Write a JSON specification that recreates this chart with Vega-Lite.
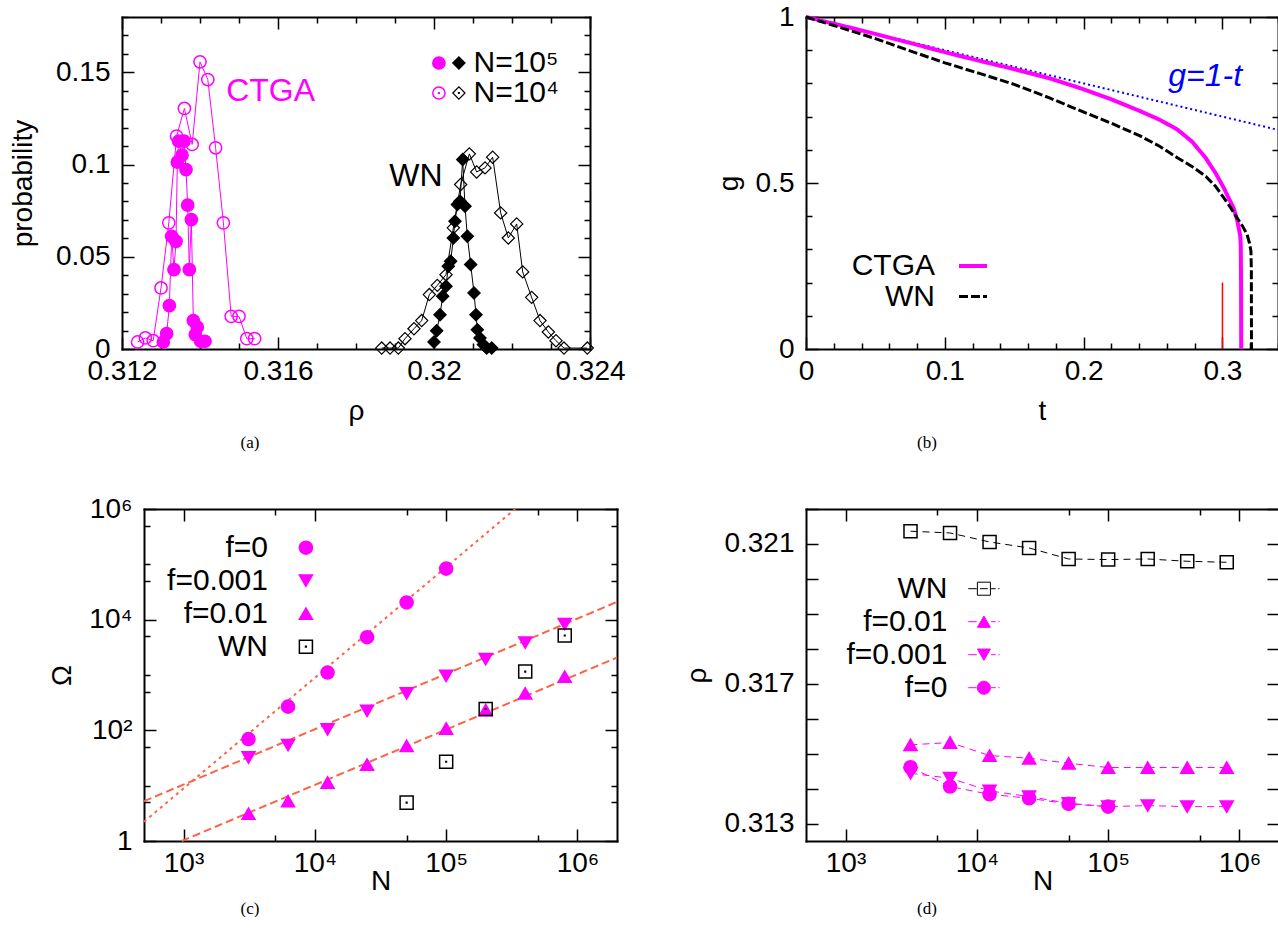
{
"$schema": "https://vega.github.io/schema/vega-lite/v6.json",
"padding": {"left": 9, "top": 3, "right": 0, "bottom": 0},
"autosize": {"type": "pad"},
"columns": 2,
"bounds": "flush",
"spacing": {"row": 160, "column": 189},
"resolve": {"scale": {"color": "independent", "fill": "independent", "stroke": "independent", "shape": "independent", "strokeDash": "independent", "strokeWidth": "independent"}, "legend": {"color": "independent", "fill": "independent", "stroke": "independent", "shape": "independent", "strokeDash": "independent", "strokeWidth": "independent"}},
"config": {
  "view": {"stroke": null},
  "font": "Liberation Sans",
  "axis": {"grid": false, "domainColor": "black", "domainWidth": 2, "domainCap": "square", "tickColor": "black", "tickWidth": 1.5, "labelColor": "black", "labelFont": "Liberation Sans", "labelFontSize": 28, "titleFont": "Liberation Sans", "titleFontSize": 28, "titleFontWeight": "normal", "titleColor": "black", "labelFlush": false, "labelOverlap": false, "labelBound": false},
  "legend": {"labelFont": "Liberation Sans", "labelFontSize": 30, "labelColor": "black", "padding": 0},
  "point": {"opacity": 1},
  "text": {"font": "Liberation Sans"}
},
"concat": [
{
  "width": 468, "height": 332,
  "title": {"text": "(a)", "orient": "bottom", "anchor": "middle", "frame": "group", "dx": -106, "offset": 10, "font": "Liberation Serif", "fontSize": 17, "fontWeight": "normal", "color": "black"},
  "data": {"values": [
    {"m":"CTGA","N":"N=10⁴","rho":0.3124,"p":0.0038},{"m":"CTGA","N":"N=10⁴","rho":0.3126,"p":0.006},{"m":"CTGA","N":"N=10⁴","rho":0.3128,"p":0.0045},{"m":"CTGA","N":"N=10⁴","rho":0.313,"p":0.0331},{"m":"CTGA","N":"N=10⁴","rho":0.3132,"p":0.0684},{"m":"CTGA","N":"N=10⁴","rho":0.3134,"p":0.1154},{"m":"CTGA","N":"N=10⁴","rho":0.3136,"p":0.1304},{"m":"CTGA","N":"N=10⁴","rho":0.3138,"p":0.1109},{"m":"CTGA","N":"N=10⁴","rho":0.314,"p":0.1557},{"m":"CTGA","N":"N=10⁴","rho":0.3142,"p":0.1461},{"m":"CTGA","N":"N=10⁴","rho":0.3144,"p":0.1091},{"m":"CTGA","N":"N=10⁴","rho":0.3146,"p":0.0684},{"m":"CTGA","N":"N=10⁴","rho":0.3148,"p":0.0177},{"m":"CTGA","N":"N=10⁴","rho":0.315,"p":0.0177},{"m":"CTGA","N":"N=10⁴","rho":0.3152,"p":0.0056},{"m":"CTGA","N":"N=10⁴","rho":0.3154,"p":0.0056},
    {"m":"CTGA","N":"N=10⁵","rho":0.31306,"p":0.0038},{"m":"CTGA","N":"N=10⁵","rho":0.313145,"p":0.0083},{"m":"CTGA","N":"N=10⁵","rho":0.313214,"p":0.0235},{"m":"CTGA","N":"N=10⁵","rho":0.313274,"p":0.0611},{"m":"CTGA","N":"N=10⁵","rho":0.313333,"p":0.043},{"m":"CTGA","N":"N=10⁵","rho":0.313385,"p":0.0584},{"m":"CTGA","N":"N=10⁵","rho":0.313419,"p":0.1013},{"m":"CTGA","N":"N=10⁵","rho":0.313453,"p":0.1127},{"m":"CTGA","N":"N=10⁵","rho":0.313538,"p":0.1051},{"m":"CTGA","N":"N=10⁵","rho":0.31359,"p":0.1127},{"m":"CTGA","N":"N=10⁵","rho":0.313641,"p":0.0973},{"m":"CTGA","N":"N=10⁵","rho":0.313684,"p":0.078},{"m":"CTGA","N":"N=10⁵","rho":0.313726,"p":0.043},{"m":"CTGA","N":"N=10⁵","rho":0.313778,"p":0.0702},{"m":"CTGA","N":"N=10⁵","rho":0.313829,"p":0.0154},{"m":"CTGA","N":"N=10⁵","rho":0.31388,"p":0.0078},{"m":"CTGA","N":"N=10⁵","rho":0.313932,"p":0.0118},{"m":"CTGA","N":"N=10⁵","rho":0.314017,"p":0.0042},{"m":"CTGA","N":"N=10⁵","rho":0.314128,"p":0.0042},
    {"m":"WN","N":"N=10⁴","rho":0.318659,"p":0.0005},{"m":"WN","N":"N=10⁴","rho":0.318872,"p":0.0005},{"m":"WN","N":"N=10⁴","rho":0.319085,"p":0.0005},{"m":"WN","N":"N=10⁴","rho":0.319256,"p":0.0056},{"m":"WN","N":"N=10⁴","rho":0.319487,"p":0.011},{"m":"WN","N":"N=10⁴","rho":0.319684,"p":0.0154},{"m":"WN","N":"N=10⁴","rho":0.31988,"p":0.0295},{"m":"WN","N":"N=10⁴","rho":0.320085,"p":0.0345},{"m":"WN","N":"N=10⁴","rho":0.320308,"p":0.0403},{"m":"WN","N":"N=10⁴","rho":0.320496,"p":0.0657},{"m":"WN","N":"N=10⁴","rho":0.320684,"p":0.0892},{"m":"WN","N":"N=10⁴","rho":0.320906,"p":0.1058},{"m":"WN","N":"N=10⁴","rho":0.321094,"p":0.096},{"m":"WN","N":"N=10⁴","rho":0.321308,"p":0.0982},{"m":"WN","N":"N=10⁴","rho":0.321504,"p":0.104},{"m":"WN","N":"N=10⁴","rho":0.321709,"p":0.0738},{"m":"WN","N":"N=10⁴","rho":0.321906,"p":0.0602},{"m":"WN","N":"N=10⁴","rho":0.32212,"p":0.0678},{"m":"WN","N":"N=10⁴","rho":0.322274,"p":0.0418},{"m":"WN","N":"N=10⁴","rho":0.322504,"p":0.028},{"m":"WN","N":"N=10⁴","rho":0.322718,"p":0.0154},{"m":"WN","N":"N=10⁴","rho":0.322932,"p":0.0092},{"m":"WN","N":"N=10⁴","rho":0.323128,"p":0.0045},{"m":"WN","N":"N=10⁴","rho":0.323333,"p":0.0005},{"m":"WN","N":"N=10⁴","rho":0.323931,"p":0.0005},
    {"m":"WN","N":"N=10⁵","rho":0.32,"p":0.0038},{"m":"WN","N":"N=10⁵","rho":0.320069,"p":0.0099},{"m":"WN","N":"N=10⁵","rho":0.320154,"p":0.0186},{"m":"WN","N":"N=10⁵","rho":0.320223,"p":0.0286},{"m":"WN","N":"N=10⁵","rho":0.320308,"p":0.034},{"m":"WN","N":"N=10⁵","rho":0.320367,"p":0.0449},{"m":"WN","N":"N=10⁵","rho":0.320428,"p":0.0476},{"m":"WN","N":"N=10⁵","rho":0.320496,"p":0.0602},{"m":"WN","N":"N=10⁵","rho":0.320538,"p":0.0693},{"m":"WN","N":"N=10⁵","rho":0.320598,"p":0.0783},{"m":"WN","N":"N=10⁵","rho":0.320667,"p":0.0801},{"m":"WN","N":"N=10⁵","rho":0.320735,"p":0.1027},{"m":"WN","N":"N=10⁵","rho":0.320795,"p":0.0774},{"m":"WN","N":"N=10⁵","rho":0.320854,"p":0.0611},{"m":"WN","N":"N=10⁵","rho":0.32094,"p":0.0458},{"m":"WN","N":"N=10⁵","rho":0.321026,"p":0.0304},{"m":"WN","N":"N=10⁵","rho":0.321077,"p":0.0186},{"m":"WN","N":"N=10⁵","rho":0.321111,"p":0.0105},{"m":"WN","N":"N=10⁵","rho":0.321179,"p":0.006},{"m":"WN","N":"N=10⁵","rho":0.321265,"p":0.0024},{"m":"WN","N":"N=10⁵","rho":0.32135,"p":0.0005},{"m":"WN","N":"N=10⁵","rho":0.321479,"p":0.0005}
  ]},
  "layer": [
    {"transform": [{"filter": "datum.m=='CTGA'"}],
     "mark": {"type": "line", "color": "#ff00ff", "strokeWidth": 1},
     "encoding": {
       "x": {"field": "rho", "type": "quantitative", "scale": {"domain": [0.312, 0.324], "nice": false, "zero": false},
             "axis": {"orient": "bottom", "values": [0.312,0.313,0.314,0.315,0.316,0.317,0.318,0.319,0.32,0.321,0.322,0.323,0.324], "tickSize": {"condition": {"test": "abs(datum.value/0.004-round(datum.value/0.004))<0.01", "value": -12}, "value": -6}, "labelExpr": "abs(datum.value/0.004-round(datum.value/0.004))<0.01 ? format(datum.value,'.3~f') : ''", "labelPadding": 20, "title": "ρ", "titlePadding": 6}},
       "y": {"field": "p", "type": "quantitative", "scale": {"domain": [0, 0.18], "nice": false, "zero": false},
             "axis": {"orient": "left", "values": [0,0.01,0.02,0.03,0.04,0.05,0.06,0.07,0.08,0.09,0.1,0.11,0.12,0.13,0.14,0.15,0.16,0.17,0.18], "tickSize": {"condition": {"test": "abs(datum.value/0.05-round(datum.value/0.05))<0.01", "value": -12}, "value": -6}, "labelExpr": "abs(datum.value/0.05-round(datum.value/0.05))<0.01 ? format(datum.value,'.2~f') : ''", "labelPadding": 24, "title": "probability", "titlePadding": 18}},
       "detail": {"field": "N", "type": "nominal"}
     }},
    {"transform": [{"filter": "datum.m=='WN'"}],
     "mark": {"type": "line", "color": "black", "strokeWidth": 1},
     "encoding": {
       "x": {"field": "rho", "type": "quantitative",
             "axis": {"orient": "top", "values": [0.312,0.313,0.314,0.315,0.316,0.317,0.318,0.319,0.32,0.321,0.322,0.323,0.324], "tickSize": {"condition": {"test": "abs(datum.value/0.004-round(datum.value/0.004))<0.01", "value": -12}, "value": -6}, "labels": false, "title": null}},
       "y": {"field": "p", "type": "quantitative",
             "axis": {"orient": "right", "values": [0,0.01,0.02,0.03,0.04,0.05,0.06,0.07,0.08,0.09,0.1,0.11,0.12,0.13,0.14,0.15,0.16,0.17,0.18], "tickSize": {"condition": {"test": "abs(datum.value/0.05-round(datum.value/0.05))<0.01", "value": -12}, "value": -6}, "labels": false, "title": null}},
       "detail": {"field": "N", "type": "nominal"}
     }},
    {"transform": [{"filter": "datum.m=='CTGA'"}],
     "mark": {"type": "point", "shape": "circle", "size": 150, "stroke": "#ff00ff", "strokeWidth": 1.5, "opacity": 1},
     "encoding": {
       "x": {"field": "rho", "type": "quantitative", "axis": null},
       "y": {"field": "p", "type": "quantitative", "axis": null},
       "fill": {"field": "N", "type": "nominal", "scale": {"domain": ["N=10⁵", "N=10⁴"], "range": ["#ff00ff", "transparent"]},
                "legend": {"orient": "none", "legendX": 301.9, "legendY": 31, "title": null, "symbolType": "M1,0A1,1,0,1,1,-1,0A1,1,0,1,1,1,0ZM-0.06,-0.06H0.06V0.06H-0.06Z", "symbolSize": 150, "symbolStrokeColor": "#ff00ff", "symbolStrokeWidth": 1.5, "labelOpacity": 0, "labelAlign": "right", "labelOffset": -20, "labelFontSize": 30, "padding": 0, "rowPadding": 0}}
     }},
    {"transform": [{"filter": "datum.m=='WN'"}],
     "mark": {"type": "point", "shape": "diamond", "size": 150, "stroke": "black", "strokeWidth": 1.2, "opacity": 1},
     "encoding": {
       "x": {"field": "rho", "type": "quantitative", "axis": null},
       "y": {"field": "p", "type": "quantitative", "axis": null},
       "fill": {"field": "N", "type": "nominal", "scale": {"domain": ["N=10⁵", "N=10⁴"], "range": ["black", "transparent"]},
                "legend": {"orient": "none", "legendX": 321.9, "legendY": 31, "title": null, "symbolType": "M-1,0L0,-1L1,0L0,1ZM-0.06,-0.06H0.06V0.06H-0.06Z", "symbolSize": 150, "symbolStrokeColor": "black", "symbolStrokeWidth": 1.2, "labelFontSize": 30, "labelOffset": -0.4, "padding": 0, "rowPadding": 0}}
     }},
    {"data": {"values": [{}]},
     "mark": {"type": "text", "text": "CTGA", "align": "left", "baseline": "middle", "fontSize": 32, "color": "#ff00ff"},
     "encoding": {"x": {"datum": 0.31467, "type": "quantitative", "axis": null}, "y": {"datum": 0.14, "type": "quantitative", "axis": null}}},
    {"data": {"values": [{}]},
     "mark": {"type": "text", "text": "WN", "align": "center", "baseline": "middle", "fontSize": 32, "color": "black"},
     "encoding": {"x": {"datum": 0.319538, "type": "quantitative", "axis": null}, "y": {"datum": 0.094, "type": "quantitative", "axis": null}}}
  ],
  "resolve": {"axis": {"x": "independent", "y": "independent"}, "scale": {"fill": "independent"}}
},
{
  "width": 472, "height": 332,
  "title": {"text": "(b)", "orient": "bottom", "anchor": "middle", "frame": "group", "dx": -115, "offset": 10, "font": "Liberation Serif", "fontSize": 17, "fontWeight": "normal", "color": "black"},
  "layer": [
    {"data": {"values": [{"t": 0, "g": 1}, {"t": 0.34, "g": 0.66}]},
     "mark": {"type": "line", "color": "#0000ff", "strokeWidth": 2, "strokeDash": [2, 3]},
     "encoding": {
       "x": {"field": "t", "type": "quantitative", "scale": {"domain": [0, 0.34], "nice": false, "zero": false},
             "axis": {"orient": "bottom", "values": [0,0.02,0.04,0.06,0.08,0.1,0.12,0.14,0.16,0.18,0.2,0.22,0.24,0.26,0.28,0.3,0.32,0.34], "tickSize": {"condition": {"test": "abs(datum.value/0.1-round(datum.value/0.1))<0.01", "value": -12}, "value": -6}, "labelExpr": "abs(datum.value/0.1-round(datum.value/0.1))<0.01 ? format(datum.value,'.1~f') : ''", "labelPadding": 20, "title": "t", "titlePadding": 6}},
       "y": {"field": "g", "type": "quantitative", "scale": {"domain": [0, 1], "nice": false, "zero": false},
             "axis": {"orient": "left", "values": [0,0.1,0.2,0.3,0.4,0.5,0.6,0.7,0.8,0.9,1], "tickSize": {"condition": {"test": "abs(datum.value/0.5-round(datum.value/0.5))<0.01", "value": -12}, "value": -6}, "labelExpr": "abs(datum.value/0.5-round(datum.value/0.5))<0.01 ? format(datum.value,'.1~f') : ''", "labelPadding": 24, "title": "g", "titlePadding": 12}}
     }},
    {"data": {"values": [{"t": 0.3, "g": 0, "g2": 0.2}]},
     "mark": {"type": "rule", "color": "#ff0000", "strokeWidth": 1.5},
     "encoding": {"x": {"field": "t", "type": "quantitative", "axis": null}, "y": {"field": "g", "type": "quantitative", "axis": null}, "y2": {"field": "g2"}}},
    {"data": {"values": [
       {"m":"CTGA","t":0,"g":1},{"m":"CTGA","t":0.025,"g":0.975},{"m":"CTGA","t":0.05,"g":0.949},{"m":"CTGA","t":0.075,"g":0.922},{"m":"CTGA","t":0.1,"g":0.894},{"m":"CTGA","t":0.125,"g":0.868},{"m":"CTGA","t":0.15,"g":0.843},{"m":"CTGA","t":0.175,"g":0.816},{"m":"CTGA","t":0.198,"g":0.785},{"m":"CTGA","t":0.22,"g":0.752},{"m":"CTGA","t":0.241,"g":0.716},{"m":"CTGA","t":0.255,"g":0.69},{"m":"CTGA","t":0.2675,"g":0.661},{"m":"CTGA","t":0.278,"g":0.625},{"m":"CTGA","t":0.2878,"g":0.576},{"m":"CTGA","t":0.295,"g":0.53},{"m":"CTGA","t":0.301,"g":0.485},{"m":"CTGA","t":0.305,"g":0.45},{"m":"CTGA","t":0.308,"g":0.425},{"m":"CTGA","t":0.3105,"g":0.39},{"m":"CTGA","t":0.3117,"g":0.365},{"m":"CTGA","t":0.3128,"g":0.34},{"m":"CTGA","t":0.3132,"g":0.31},{"m":"CTGA","t":0.3134,"g":0.2},{"m":"CTGA","t":0.3135,"g":0},
       {"m":"WN","t":0,"g":1},{"m":"WN","t":0.025,"g":0.968},{"m":"WN","t":0.05,"g":0.935},{"m":"WN","t":0.075,"g":0.898},{"m":"WN","t":0.1,"g":0.862},{"m":"WN","t":0.125,"g":0.83},{"m":"WN","t":0.15,"g":0.797},{"m":"WN","t":0.175,"g":0.757},{"m":"WN","t":0.198,"g":0.717},{"m":"WN","t":0.22,"g":0.68},{"m":"WN","t":0.241,"g":0.641},{"m":"WN","t":0.255,"g":0.61},{"m":"WN","t":0.2675,"g":0.576},{"m":"WN","t":0.278,"g":0.55},{"m":"WN","t":0.288,"g":0.52},{"m":"WN","t":0.295,"g":0.49},{"m":"WN","t":0.301,"g":0.455},{"m":"WN","t":0.306,"g":0.425},{"m":"WN","t":0.3105,"g":0.395},{"m":"WN","t":0.3145,"g":0.37},{"m":"WN","t":0.3177,"g":0.345},{"m":"WN","t":0.3195,"g":0.318},{"m":"WN","t":0.3205,"g":0.295},{"m":"WN","t":0.3208,"g":0.24},{"m":"WN","t":0.3209,"g":0}
     ]},
     "mark": {"type": "line"},
     "encoding": {
       "x": {"field": "t", "type": "quantitative",
             "axis": {"orient": "top", "values": [0,0.02,0.04,0.06,0.08,0.1,0.12,0.14,0.16,0.18,0.2,0.22,0.24,0.26,0.28,0.3,0.32,0.34], "tickSize": {"condition": {"test": "abs(datum.value/0.1-round(datum.value/0.1))<0.01", "value": -12}, "value": -6}, "labels": false, "title": null}},
       "y": {"field": "g", "type": "quantitative",
             "axis": {"orient": "right", "values": [0,0.1,0.2,0.3,0.4,0.5,0.6,0.7,0.8,0.9,1], "tickSize": {"condition": {"test": "abs(datum.value/0.5-round(datum.value/0.5))<0.01", "value": -12}, "value": -6}, "labels": false, "title": null}},
       "color": {"field": "m", "type": "nominal", "scale": {"domain": ["CTGA", "WN"], "range": ["#ff00ff", "black"]},
                 "legend": {"orient": "none", "legendX": 151, "legendY": 233, "title": null, "symbolType": "stroke", "symbolSize": 784, "labelAlign": "right", "labelOffset": -54, "labelFontSize": 30, "padding": 0, "rowPadding": 0}},
       "strokeDash": {"field": "m", "type": "nominal", "scale": {"domain": ["CTGA", "WN"], "range": [[1, 0], [9, 3]]},
                 "legend": {"orient": "none", "legendX": 151, "legendY": 233, "title": null, "symbolType": "stroke", "symbolSize": 784, "labelAlign": "right", "labelOffset": -54, "labelFontSize": 30, "padding": 0, "rowPadding": 0}},
       "strokeWidth": {"field": "m", "type": "ordinal", "scale": {"domain": ["CTGA", "WN"], "range": [4, 3]},
                 "legend": {"orient": "none", "legendX": 151, "legendY": 233, "title": null, "symbolType": "stroke", "symbolSize": 784, "labelAlign": "right", "labelOffset": -54, "labelFontSize": 30, "padding": 0, "rowPadding": 0}}
     }},
    {"data": {"values": [{}]},
     "mark": {"type": "text", "text": "g=1-t", "fontStyle": "italic", "fontSize": 32, "color": "#0000ff", "align": "center", "baseline": "middle"},
     "encoding": {"x": {"datum": 0.2875, "type": "quantitative", "axis": null}, "y": {"datum": 0.822, "type": "quantitative", "axis": null}}}
  ],
  "resolve": {"axis": {"x": "independent", "y": "independent"}}
},
{
  "width": 495, "height": 332,
  "title": {"text": "(c)", "orient": "bottom", "anchor": "middle", "frame": "group", "dx": -119.5, "offset": 6, "font": "Liberation Serif", "fontSize": 17, "fontWeight": "normal", "color": "black"},
  "layer": [
    {"data": {"values": [
       {"fit":"f0","N":500,"O":2.23},{"fit":"f0","N":335000,"O":1000000},
       {"fit":"f001","N":500,"O":5.24},{"fit":"f001","N":2000000,"O":20900},
       {"fit":"f01","N":968,"O":1},{"fit":"f01","N":2000000,"O":2065}
     ]},
     "mark": {"type": "line", "color": "#ff6347", "strokeWidth": 2},
     "encoding": {
       "x": {"field": "N", "type": "quantitative", "scale": {"type": "log", "domain": [500, 2000000], "range": [22, 495], "nice": false},
             "axis": {"orient": "bottom", "values": [1000,5000,10000,50000,100000,500000,1000000], "tickSize": {"condition": {"test": "abs(log(datum.value)/LN10-round(log(datum.value)/LN10))<0.01", "value": -12}, "value": -6}, "labelExpr": "abs(log(datum.value)/LN10-round(log(datum.value)/LN10))<0.01 ? '10'+['⁰','¹','²','³','⁴','⁵','⁶','⁷'][round(log(datum.value)/LN10)] : ''", "labelPadding": 20, "title": "N", "titlePadding": -16}},
       "y": {"field": "O", "type": "quantitative", "scale": {"type": "log", "domain": [1, 1000000], "nice": false},
             "axis": {"orient": "left", "offset": -22, "values": [1,5,10,50,100,500,1000,5000,10000,50000,100000,500000,1000000], "tickSize": {"condition": {"test": "abs(log(datum.value)/LN10/2-round(log(datum.value)/LN10/2))<0.01", "value": -12}, "value": -6}, "labelExpr": "datum.value==1 ? '1' : (abs(log(datum.value)/LN10/2-round(log(datum.value)/LN10/2))<0.01 ? '10'+['⁰','¹','²','³','⁴','⁵','⁶','⁷'][round(log(datum.value)/LN10)] : '')", "labelPadding": 24, "title": "Ω", "titlePadding": 12}},
       "strokeDash": {"field": "fit", "type": "nominal", "scale": {"domain": ["f0", "f001", "f01"], "range": [[3, 4], [8, 4], [8, 4]]}, "legend": null}
     }},
    {"data": {"values": [
       {"s":"f=0","N":3125,"O":69.5},{"s":"f=0","N":6250,"O":268},{"s":"f=0","N":12500,"O":1105},{"s":"f=0","N":25000,"O":4820},{"s":"f=0","N":50000,"O":20500},{"s":"f=0","N":100000,"O":83600},
       {"s":"f=0.001","N":3125,"O":32.3},{"s":"f=0.001","N":6250,"O":54.2},{"s":"f=0.001","N":12500,"O":104},{"s":"f=0.001","N":25000,"O":224},{"s":"f=0.001","N":50000,"O":466},{"s":"f=0.001","N":100000,"O":962},{"s":"f=0.001","N":200000,"O":1930},{"s":"f=0.001","N":400000,"O":3860},{"s":"f=0.001","N":800000,"O":8290},
       {"s":"f=0.01","N":3125,"O":3.12},{"s":"f=0.01","N":6250,"O":5.24},{"s":"f=0.01","N":12500,"O":11.4},{"s":"f=0.01","N":25000,"O":24.1},{"s":"f=0.01","N":50000,"O":52.6},{"s":"f=0.01","N":100000,"O":108},{"s":"f=0.01","N":200000,"O":233},{"s":"f=0.01","N":400000,"O":466},{"s":"f=0.01","N":800000,"O":935},
       {"s":"WN","N":50000,"O":4.94},{"s":"WN","N":100000,"O":27},{"s":"WN","N":200000,"O":243},{"s":"WN","N":400000,"O":1153},{"s":"WN","N":800000,"O":5170}
     ]},
     "mark": {"type": "point", "size": 170, "strokeWidth": 1.5, "opacity": 1},
     "encoding": {
       "x": {"field": "N", "type": "quantitative",
             "axis": {"orient": "top", "values": [1000,5000,10000,50000,100000,500000,1000000], "tickSize": {"condition": {"test": "abs(log(datum.value)/LN10-round(log(datum.value)/LN10))<0.01", "value": -12}, "value": -6}, "labels": false, "title": null}},
       "y": {"field": "O", "type": "quantitative",
             "axis": {"orient": "right", "values": [1,5,10,50,100,500,1000,5000,10000,50000,100000,500000,1000000], "tickSize": {"condition": {"test": "abs(log(datum.value)/LN10/2-round(log(datum.value)/LN10/2))<0.01", "value": -12}, "value": -6}, "labels": false, "title": null}},
       "shape": {"field": "s", "type": "nominal", "scale": {"domain": ["f=0", "f=0.001", "f=0.01", "WN"], "range": ["circle", "triangle-down", "triangle-up", "M-1,-1H1V1H-1ZM-0.05,-0.05H0.05V0.05H-0.05Z"]},
                 "legend": {"orient": "none", "legendX": 168.9, "legendY": 23.7, "title": null, "symbolSize": 170, "symbolStrokeWidth": 1.5, "labelAlign": "right", "labelOffset": -52.9, "labelFontSize": 30, "padding": 0, "rowPadding": 3}},
       "fill": {"field": "s", "type": "nominal", "scale": {"domain": ["f=0", "f=0.001", "f=0.01", "WN"], "range": ["#ff00ff", "#ff00ff", "#ff00ff", "transparent"]},
                 "legend": {"orient": "none", "legendX": 168.9, "legendY": 23.7, "title": null, "symbolSize": 170, "symbolStrokeWidth": 1.5, "labelAlign": "right", "labelOffset": -52.9, "labelFontSize": 30, "padding": 0, "rowPadding": 3}},
       "stroke": {"field": "s", "type": "nominal", "scale": {"domain": ["f=0", "f=0.001", "f=0.01", "WN"], "range": ["#ff00ff", "#ff00ff", "#ff00ff", "black"]},
                 "legend": {"orient": "none", "legendX": 168.9, "legendY": 23.7, "title": null, "symbolSize": 170, "symbolStrokeWidth": 1.5, "labelAlign": "right", "labelOffset": -52.9, "labelFontSize": 30, "padding": 0, "rowPadding": 3}}
     }}
  ],
  "resolve": {"axis": {"x": "independent", "y": "independent"}}
},
{
  "width": 473, "height": 332,
  "title": {"text": "(d)", "orient": "bottom", "anchor": "middle", "frame": "group", "dx": -115.5, "offset": 6, "font": "Liberation Serif", "fontSize": 17, "fontWeight": "normal", "color": "black"},
  "data": {"values": [
    {"s":"WN","N":3125,"r":0.321364},{"s":"WN","N":6250,"r":0.321315},{"s":"WN","N":12500,"r":0.321057},{"s":"WN","N":25000,"r":0.320885},{"s":"WN","N":50000,"r":0.32057},{"s":"WN","N":100000,"r":0.320553},{"s":"WN","N":200000,"r":0.32057},{"s":"WN","N":400000,"r":0.320504},{"s":"WN","N":800000,"r":0.320476},
    {"s":"f=0.01","N":3125,"r":0.315252},{"s":"f=0.01","N":6250,"r":0.315318},{"s":"f=0.01","N":12500,"r":0.314945},{"s":"f=0.01","N":25000,"r":0.314868},{"s":"f=0.01","N":50000,"r":0.314725},{"s":"f=0.01","N":100000,"r":0.314602},{"s":"f=0.01","N":200000,"r":0.314602},{"s":"f=0.01","N":400000,"r":0.314602},{"s":"f=0.01","N":800000,"r":0.314602},
    {"s":"f=0.001","N":3125,"r":0.314438},{"s":"f=0.001","N":6250,"r":0.314295},{"s":"f=0.001","N":12500,"r":0.313934},{"s":"f=0.001","N":25000,"r":0.313771},{"s":"f=0.001","N":50000,"r":0.313579},{"s":"f=0.001","N":100000,"r":0.313484},{"s":"f=0.001","N":200000,"r":0.313513},{"s":"f=0.001","N":400000,"r":0.313484},{"s":"f=0.001","N":800000,"r":0.313484},
    {"s":"f=0","N":3125,"r":0.31461},{"s":"f=0","N":6250,"r":0.314057},{"s":"f=0","N":12500,"r":0.313837},{"s":"f=0","N":25000,"r":0.313722},{"s":"f=0","N":50000,"r":0.313562},{"s":"f=0","N":100000,"r":0.313484}
  ]},
  "layer": [
    {"mark": {"type": "line", "strokeWidth": 1, "strokeDash": [7, 5]},
     "encoding": {
       "x": {"field": "N", "type": "quantitative", "scale": {"type": "log", "domain": [500, 2000000], "nice": false},
             "axis": {"orient": "bottom", "values": [1000,5000,10000,50000,100000,500000,1000000], "tickSize": {"condition": {"test": "abs(log(datum.value)/LN10-round(log(datum.value)/LN10))<0.01", "value": -12}, "value": -6}, "labelExpr": "abs(log(datum.value)/LN10-round(log(datum.value)/LN10))<0.01 ? '10'+['⁰','¹','²','³','⁴','⁵','⁶','⁷'][round(log(datum.value)/LN10)] : ''", "labelPadding": 20, "title": "N", "titlePadding": -16}},
       "y": {"field": "r", "type": "quantitative", "scale": {"domain": [0.3125, 0.322], "nice": false, "zero": false},
             "axis": {"orient": "left", "values": [0.313,0.314,0.315,0.316,0.317,0.318,0.319,0.32,0.321,0.322], "tickSize": -12, "labelExpr": "abs((datum.value-0.313)/0.004-round((datum.value-0.313)/0.004))<0.01 ? format(datum.value,'.3f') : ''", "labelPadding": 24, "title": "ρ", "titlePadding": 12}},
       "color": {"field": "s", "type": "nominal", "scale": {"domain": ["WN", "f=0.01", "f=0.001", "f=0"], "range": ["black", "#ff00ff", "#ff00ff", "#ff00ff"]}, "legend": null}
     }},
    {"mark": {"type": "point", "size": 170, "strokeWidth": 1.5, "opacity": 1},
     "encoding": {
       "x": {"field": "N", "type": "quantitative",
             "axis": {"orient": "top", "values": [1000,5000,10000,50000,100000,500000,1000000], "tickSize": {"condition": {"test": "abs(log(datum.value)/LN10-round(log(datum.value)/LN10))<0.01", "value": -12}, "value": -6}, "labels": false, "title": null}},
       "y": {"field": "r", "type": "quantitative",
             "axis": {"orient": "right", "values": [0.313,0.314,0.315,0.316,0.317,0.318,0.319,0.32,0.321,0.322], "tickSize": -12, "labels": false, "title": null}},
       "shape": {"field": "s", "type": "nominal", "scale": {"domain": ["WN", "f=0.01", "f=0.001", "f=0"], "range": ["square", "triangle-up", "triangle-down", "circle"]}, "legend": null},
       "fill": {"field": "s", "type": "nominal", "scale": {"domain": ["WN", "f=0.01", "f=0.001", "f=0"], "range": ["transparent", "#ff00ff", "#ff00ff", "#ff00ff"]}, "legend": null},
       "stroke": {"field": "s", "type": "nominal", "scale": {"domain": ["WN", "f=0.01", "f=0.001", "f=0"], "range": ["black", "#ff00ff", "#ff00ff", "#ff00ff"]}, "legend": null}
     }},
    {"transform": [{"filter": "false"}],
     "mark": {"type": "point", "strokeWidth": 1, "opacity": 1},
     "encoding": {
       "shape": {"field": "s", "type": "nominal", "scale": {"domain": ["WN", "f=0.01", "f=0.001", "f=0"], "range": ["M-2.4,0H-1.1M1.1,0H1.8M2.2,0H2.4M-1,-1H1V1H-1ZM-0.6,0H0.6", "M-2.4,0H-1.1M1.1,0H1.8M2.2,0H2.4M0,-0.866L1,0.866L-1,0.866Z", "M-2.4,0H-1.1M1.1,0H1.8M2.2,0H2.4M0,0.866L1,-0.866L-1,-0.866Z", "M-2.4,0H-1.1M1.1,0H1.8M2.2,0H2.4M1,0A1,1,0,1,1,-1,0A1,1,0,1,1,1,0Z"]},
                 "legend": {"orient": "none", "legendX": 162.9, "legendY": 64.7, "title": null, "symbolSize": 170, "symbolStrokeWidth": 1, "labelAlign": "right", "labelOffset": -51.5, "labelFontSize": 30, "padding": 0, "rowPadding": 3}},
       "fill": {"field": "s", "type": "nominal", "scale": {"domain": ["WN", "f=0.01", "f=0.001", "f=0"], "range": ["transparent", "#ff00ff", "#ff00ff", "#ff00ff"]},
                 "legend": {"orient": "none", "legendX": 162.9, "legendY": 64.7, "title": null, "symbolSize": 170, "symbolStrokeWidth": 1, "labelAlign": "right", "labelOffset": -51.5, "labelFontSize": 30, "padding": 0, "rowPadding": 3}},
       "stroke": {"field": "s", "type": "nominal", "scale": {"domain": ["WN", "f=0.01", "f=0.001", "f=0"], "range": ["black", "#ff00ff", "#ff00ff", "#ff00ff"]},
                 "legend": {"orient": "none", "legendX": 162.9, "legendY": 64.7, "title": null, "symbolSize": 170, "symbolStrokeWidth": 1, "labelAlign": "right", "labelOffset": -51.5, "labelFontSize": 30, "padding": 0, "rowPadding": 3}}
     }}
  ],
  "resolve": {"axis": {"x": "independent", "y": "independent"}, "scale": {"shape": "independent", "fill": "independent", "stroke": "independent"}}
}
]
}
